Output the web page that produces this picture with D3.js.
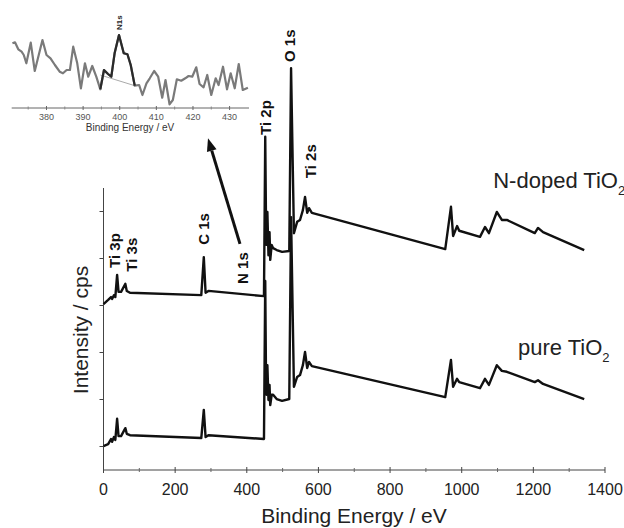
<!DOCTYPE html>
<html>
<head>
<meta charset="utf-8">
<script src="https://cdn.jsdelivr.net/npm/d3@7"></script>
<style>
    html, body { margin: 0; padding: 0; background: #fff; }
    svg { display: block; font-family: Arial, 'Liberation Sans', sans-serif; }
</style>
</head>
<body>
<svg id="chart" width="624" height="528"></svg>
<script>

// Survey spectra, [binding energy (eV), intensity (a.u.)]
const dopedTiO2 = [
    [0, 3.53], [13, 3.62], [21, 3.68], [24, 3.64], [29, 3.72], [33, 3.68], [38, 4.15], [42, 3.79],
    [49, 3.79], [61, 3.96], [65, 3.81], [74, 3.77], [273, 3.72], [280, 4.53], [285, 3.77], [293, 3.81],
    [448, 3.70], [451.5, 7.09], [453.5, 5.43], [455.5, 4.79], [457.5, 5.49], [460.5, 4.57], [463.5, 5.06],
    [465.5, 4.47], [469.5, 4.79], [473.5, 4.72], [483.5, 4.68], [498.5, 4.64], [518.6, 4.66], [523.6, 8.55],
    [531.6, 5.04], [540.6, 5.28], [548.6, 5.32], [556.6, 5.53], [562.6, 5.81], [568.7, 5.47], [573.7, 5.57],
    [581.7, 5.47], [954, 4.70], [970, 5.60], [976, 4.98], [987, 5.19], [993, 5.09], [1051, 4.96],
    [1065, 5.17], [1076, 5.04], [1098, 5.49], [1112, 5.32], [1126, 5.32], [1204, 5.04], [1213, 5.15],
    [1227, 5.06], [1342, 4.68]
];
const pureTiO2 = [
    [0, 0.51], [13, 0.55], [21, 0.66], [24, 0.60], [29, 0.70], [33, 0.64], [38, 1.09], [42, 0.72],
    [49, 0.72], [61, 0.89], [65, 0.77], [74, 0.74], [273, 0.68], [280, 1.28], [285, 0.70], [293, 0.74],
    [448, 0.66], [451.5, 4.02], [453.5, 2.13], [455.5, 1.60], [457.5, 2.23], [460.5, 1.49], [463.5, 1.81],
    [465.5, 1.38], [469.5, 1.60], [473.5, 1.60], [483.5, 1.51], [498.5, 1.47], [518.6, 1.51], [523.6, 5.38],
    [531.6, 1.77], [540.6, 1.98], [548.6, 2.02], [556.6, 2.23], [562.6, 2.51], [568.7, 2.17], [573.7, 2.30],
    [581.7, 2.21], [954, 1.55], [970, 2.34], [976, 1.77], [987, 1.94], [993, 1.87], [1051, 1.74],
    [1065, 1.94], [1076, 1.81], [1098, 2.23], [1112, 2.11], [1126, 2.09], [1204, 1.87], [1213, 1.91],
    [1227, 1.83], [1342, 1.51]
];

// N 1s detail of the doped sample
const insetN1s = [
    [370.7, 66.7], [371.4, 67.7], [372.3, 60.7], [373.2, 58.3], [373.8, 55], [374.5, 46.7], [375.7, 67.3],
    [376.8, 39], [378.9, 70], [380.0, 55], [381.1, 51.7], [382.3, 45], [383.6, 38.3], [384.5, 36.7],
    [385.5, 40], [386.4, 40], [387.3, 63.3], [388.4, 46.7], [389.4, 21.7], [390.5, 46.7], [391.4, 33.3],
    [392.5, 44], [393.6, 33.3], [394.7, 20.7], [395.7, 40], [396.8, 36], [397.7, 33.3], [398.6, 56.7],
    [399.8, 75], [401.1, 56.7], [402.1, 55.7], [403.0, 45], [404.1, 24.3], [405.3, 25], [406.2, 15],
    [407.3, 26.7], [408.2, 31.7], [409.4, 39], [410.5, 33.3], [411.6, 12.3], [412.5, 30], [413.6, 5.7],
    [414.5, 10], [415.6, 30.7], [416.8, 29.3], [417.9, 31.7], [418.8, 34], [419.8, 33.3], [420.9, 42.7],
    [421.8, 26], [422.9, 22.7], [423.9, 35], [425.0, 15], [426.2, 31.7], [427.0, 25], [428.2, 43.3],
    [429.3, 20.7], [430.3, 36.7], [431.4, 21.7], [432.5, 46], [433.6, 20], [435.0, 22.3]
];
const insetPeakRange = [394.7, 404.1];
const insetBackground = [[394.7, 35], [404.1, 24.3]];

const xTicks = [0, 200, 400, 600, 800, 1000, 1200, 1400];
const xMinorTicks = [100, 300, 500, 700, 900, 1100, 1300];
const yTicks = [0.5, 1.5, 2.5, 3.5, 4.5, 5.5];
const insetTicks = [380, 390, 400, 410, 420, 430];
const insetMinorTicks = [375, 385, 395, 405, 415, 425];

const peakLabels = [
    { text: 'Ti 3p', e: 32, v: 4.30 },
    { text: 'Ti 3s', e: 79.6, v: 4.22 },
    { text: 'C 1s', e: 279, v: 4.79 },
    { text: 'N 1s', e: 389.5, v: 3.96 },
    { text: 'Ti 2p', e: 453.6, v: 7.13 },
    { text: 'O 1s', e: 520.7, v: 8.68 },
    { text: 'Ti 2s', e: 579, v: 6.21 }
];
const seriesLabels = [
    { text: 'N-doped TiO', e: 1088, v: 6.0 },
    { text: 'pure TiO', e: 1157, v: 2.45 }
];
const arrowFrom = [381, 4.81];
const arrowTo = [291.7, 7.06];

// Layout
const svg = d3.select('#chart');
const TEXT = '#222';

const x = d3.scaleLinear().domain([0, 1400]).range([103.5, 605]);
const y = d3.scaleLinear().domain([0, 6]).range([470, 188]);

const line = d3.line().x((d) => x(d[0])).y((d) => y(d[1]));

// Axes
const xAxis = svg.append('g').attr('transform', `translate(0,${y(0)})`);
xAxis.append('line')
    .attr('x1', x(0)).attr('x2', x(1400))
    .attr('stroke', '#444').attr('stroke-width', 1);
xAxis.selectAll('line.major').data(xTicks).enter().append('line')
    .attr('class', 'major')
    .attr('x1', (d) => x(d)).attr('x2', (d) => x(d))
    .attr('y1', -3).attr('y2', 3)
    .attr('stroke', '#444');
xAxis.selectAll('line.minor').data(xMinorTicks).enter().append('line')
    .attr('class', 'minor')
    .attr('x1', (d) => x(d)).attr('x2', (d) => x(d))
    .attr('y1', -2).attr('y2', 2)
    .attr('stroke', '#666');
xAxis.selectAll('text').data(xTicks).enter().append('text')
    .attr('x', (d) => x(d)).attr('y', 25)
    .attr('text-anchor', 'middle')
    .attr('font-size', 16).attr('fill', TEXT)
    .text((d) => d);

const yAxis = svg.append('g').attr('transform', `translate(${x(0)},0)`);
yAxis.append('line')
    .attr('y1', y(0)).attr('y2', y(6))
    .attr('stroke', '#444').attr('stroke-width', 1);
yAxis.selectAll('line.tick').data(yTicks).enter().append('line')
    .attr('class', 'tick')
    .attr('x1', -4).attr('x2', 0)
    .attr('y1', (d) => y(d)).attr('y2', (d) => y(d))
    .attr('stroke', '#444');

svg.append('text')
    .attr('x', 354).attr('y', 523)
    .attr('text-anchor', 'middle')
    .attr('font-size', 21).attr('fill', TEXT)
    .text('Binding Energy / eV');
svg.append('text')
    .attr('transform', 'translate(88,330) rotate(-90)')
    .attr('text-anchor', 'middle')
    .attr('font-size', 21).attr('fill', TEXT)
    .text('Intensity / cps');

// Spectra
[pureTiO2, dopedTiO2].forEach((series) => {
    svg.append('path')
        .datum(series)
        .attr('d', line)
        .attr('fill', 'none')
        .attr('stroke', '#111')
        .attr('stroke-width', 2.4)
        .attr('stroke-linejoin', 'round');
});

// Peak labels
svg.selectAll('text.peak').data(peakLabels).enter().append('text')
    .attr('class', 'peak')
    .attr('transform', (d) => `translate(${x(d.e)},${y(d.v)}) rotate(-90)`)
    .attr('dy', '0.36em')
    .attr('font-size', 15).attr('font-weight', 'bold').attr('fill', '#111')
    .text((d) => d.text);

// Series labels with subscript
seriesLabels.forEach((d) => {
    let t = svg.append('text')
        .attr('x', x(d.e)).attr('y', y(d.v))
        .attr('font-size', 22).attr('fill', TEXT);
    t.append('tspan').text(d.text);
    t.append('tspan').attr('font-size', 13).attr('dy', 7).text('2');
});

// Arrow from N 1s to the inset
const ax1 = x(arrowFrom[0]), ay1 = y(arrowFrom[1]);
const ax2 = x(arrowTo[0]), ay2 = y(arrowTo[1]);
const ang = Math.atan2(ay2 - ay1, ax2 - ax1);
const headLen = 13, headW = 5;
const bx = ax2 - headLen * Math.cos(ang), by = ay2 - headLen * Math.sin(ang);
svg.append('line')
    .attr('x1', ax1).attr('y1', ay1).attr('x2', bx).attr('y2', by)
    .attr('stroke', '#111').attr('stroke-width', 3);
svg.append('path')
    .attr('d', `M${ax2},${ay2}L${bx + headW * Math.sin(ang)},${by - headW * Math.cos(ang)}L${bx - headW * Math.sin(ang)},${by + headW * Math.cos(ang)}Z`)
    .attr('fill', '#111');

// Inset
const ix = d3.scaleLinear().domain([370.5, 435.3]).range([11.7, 249]);
const iy = d3.scaleLinear().domain([0, 80]).range([110, 30]);
const iline = d3.line().x((d) => ix(d[0])).y((d) => iy(d[1]));
const inset = svg.append('g');

inset.append('path')
    .datum(insetN1s)
    .attr('d', iline)
    .attr('fill', 'none').attr('stroke', '#7a7a7a').attr('stroke-width', 2.2)
    .attr('stroke-linejoin', 'round');
inset.append('path')
    .datum(insetBackground)
    .attr('d', iline)
    .attr('fill', 'none').attr('stroke', '#aaa').attr('stroke-width', 1);
inset.append('path')
    .datum(insetN1s.filter((d) => d[0] >= insetPeakRange[0] && d[0] <= insetPeakRange[1]))
    .attr('d', iline)
    .attr('fill', 'none').attr('stroke', '#2a2a2a').attr('stroke-width', 2.2)
    .attr('stroke-linejoin', 'round');

const iAxis = inset.append('g').attr('transform', 'translate(0,108)');
iAxis.append('line')
    .attr('x1', ix(370.5)).attr('x2', ix(435.3))
    .attr('stroke', '#666');
iAxis.selectAll('line.major').data(insetTicks).enter().append('line')
    .attr('class', 'major')
    .attr('x1', (d) => ix(d)).attr('x2', (d) => ix(d))
    .attr('y1', -2).attr('y2', 2).attr('stroke', '#666');
iAxis.selectAll('line.minor').data(insetMinorTicks).enter().append('line')
    .attr('class', 'minor')
    .attr('x1', (d) => ix(d)).attr('x2', (d) => ix(d))
    .attr('y1', -1.5).attr('y2', 1.5).attr('stroke', '#888');
iAxis.selectAll('text').data(insetTicks).enter().append('text')
    .attr('x', (d) => ix(d)).attr('y', 12)
    .attr('text-anchor', 'middle')
    .attr('font-size', 9).attr('fill', '#555')
    .text((d) => d);
inset.append('text')
    .attr('x', 130).attr('y', 131)
    .attr('text-anchor', 'middle')
    .attr('font-size', 10).attr('fill', '#333')
    .text('Binding Energy / eV');
inset.append('text')
    .attr('transform', `translate(${ix(399.8)},30) rotate(-90)`)
    .attr('dy', '0.35em')
    .attr('font-size', 8).attr('font-weight', 'bold').attr('fill', '#222')
    .text('N1s');

</script>
</body>
</html>
